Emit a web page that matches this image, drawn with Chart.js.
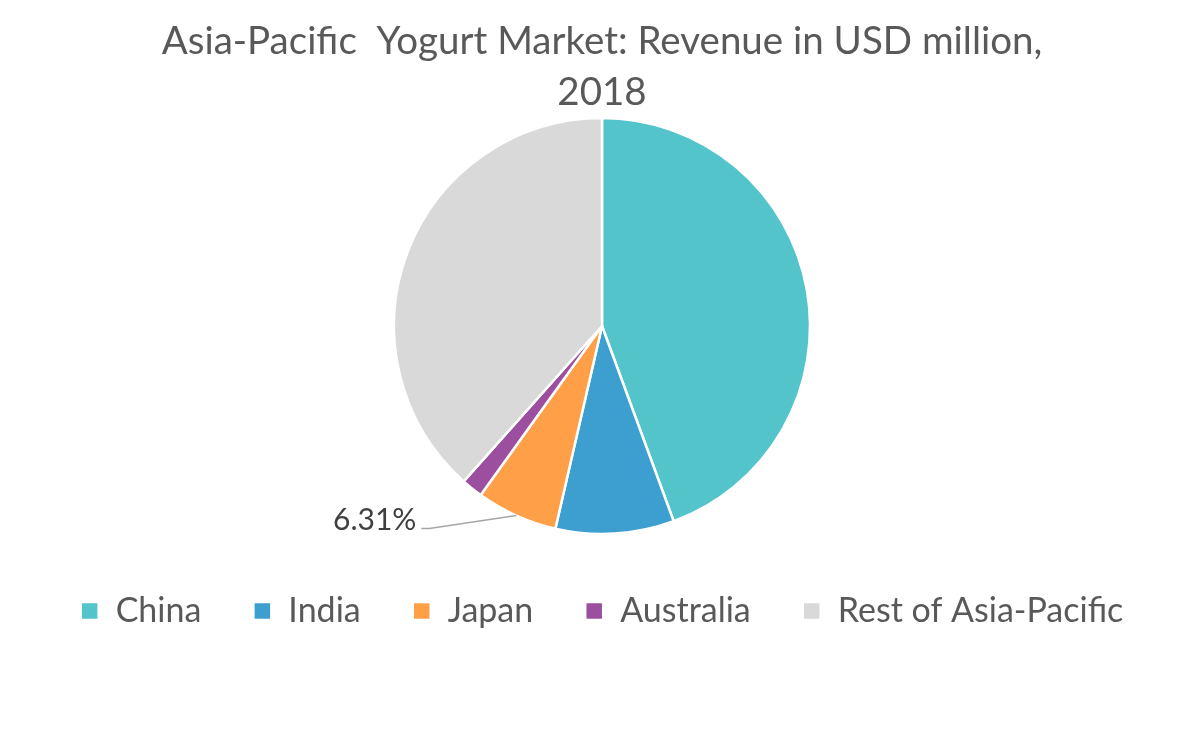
<!DOCTYPE html>
<html><head><meta charset="utf-8">
<script src="https://cdn.jsdelivr.net/npm/chart.js@4/dist/chart.umd.min.js"></script>
<style>html,body{margin:0;padding:0;background:#fff}#wrap{width:1200px;height:756px;position:relative}</style>
</head><body><div id="wrap"><canvas id="c" width="1200" height="756"></canvas></div>
<script>
const categories = ["China", "India", "Japan", "Australia", "Rest of Asia-Pacific"];
const shares = [44.4, 9.2, 6.31, 1.67, 38.42];
const colors = ["#52C4CA", "#3D9FD0", "#FFA048", "#9C4F9E", "#D9D9D9"];
const labelIndex = 2;
const labelText = "6.31%";
const titleLines = ["Asia-Pacific  Yogurt Market: Revenue in USD million,", "2018"];

const FONT = "Lato, 'Open Sans', sans-serif";

const leaderPlugin = {
  id: 'leader',
  afterDatasetsDraw(chart) {
    const arc = chart.getDatasetMeta(0).data[labelIndex];
    if (!arc) return;
    const ctx = chart.ctx;
    const mid = (arc.startAngle + arc.endAngle) / 2;
    const r = arc.outerRadius;
    const x0 = arc.x + Math.cos(mid) * r;
    const y0 = arc.y + Math.sin(mid) * r;
    const x1 = x0 - 87, y1 = y0 + 13;
    const x2 = x1 - 8;
    ctx.save();
    ctx.strokeStyle = '#A6A6A6';
    ctx.lineWidth = 1.5;
    ctx.beginPath();
    ctx.moveTo(x0, y0); ctx.lineTo(x1, y1); ctx.lineTo(x2, y1);
    ctx.stroke();
    ctx.fillStyle = '#404040';
    ctx.font = '30px ' + FONT;
    ctx.textAlign = 'right';
    ctx.textBaseline = 'middle';
    ctx.fillText(labelText, x2 - 5, y1 - 8);
    ctx.restore();
  }
};

new Chart(document.getElementById('c'), {
  type: 'pie',
  data: {
    labels: categories,
    datasets: [{
      data: shares,
      backgroundColor: colors,
      borderColor: '#FFFFFF',
      borderWidth: 2.5,
      radius: 208
    }]
  },
  options: {
    responsive: false,
    animation: false,
    layout: { padding: { top: 0, bottom: 118, left: 4, right: 0 } },
    plugins: {
      title: {
        display: true,
        text: titleLines,
        color: '#595959',
        font: { family: FONT, size: 38.5, weight: 'normal', lineHeight: 1.325 },
        padding: { top: 16, bottom: 0 }
      },
      legend: {
        position: 'bottom',
        title: { display: true, text: '', font: { size: 5, lineHeight: 1.2 }, padding: { top: 2, bottom: 0 } },
        labels: {
          color: '#595959',
          font: { family: FONT, size: 34 },
          boxWidth: 18, boxHeight: 18,
          padding: 52
        }
      },
      tooltip: { enabled: false }
    }
  },
  plugins: [leaderPlugin]
});
</script></body></html>
